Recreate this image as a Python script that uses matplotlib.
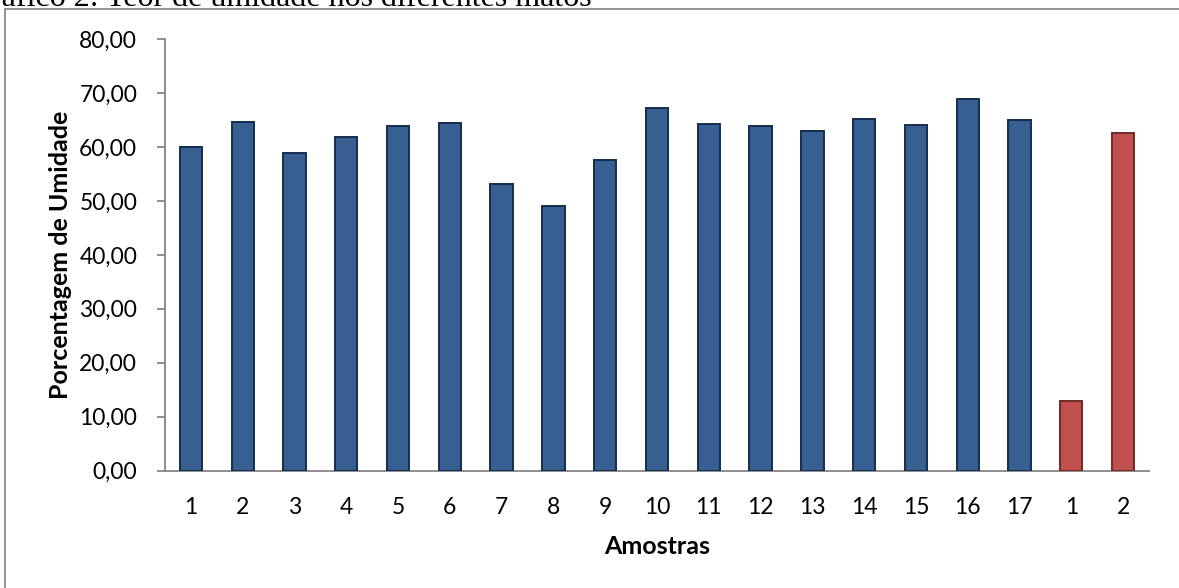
import matplotlib.pyplot as plt
from matplotlib.patches import Rectangle

# moisture content per sample (17 samples + 2 reference samples)
amostras = [str(i) for i in range(1, 18)] + ["1", "2"]
umidade = [59.9, 64.6, 58.9, 61.9, 63.8, 64.4, 53.1, 49.0, 57.5,
           67.2, 64.3, 63.8, 63.0, 65.1, 64.1, 68.8, 64.9,
           13.0, 62.5]
n_principal = 17
y_ticks = [0, 10, 20, 30, 40, 50, 60, 70, 80]

plt.rcParams['font.family'] = ['Lato', 'DejaVu Sans']

W, H = 1179, 588
fig = plt.figure(figsize=(W / 100, H / 100), dpi=100)

# outer frame of the chart area (runs off the right and bottom edges)
fig.add_artist(Rectangle((5 / W, -0.1), 1.2, 1.1 - 9 / H, transform=fig.transFigure,
                         fill=False, edgecolor='#8c8c8c', linewidth=1.3))

# caption cut off at the top of the figure
fig.text(592 / W, 1 - 6.5 / H, "Gráfico 2: Teor de umidade nos diferentes matos",
         ha='right', va='baseline', fontsize=23, family='Liberation Serif', color='black')

ax = fig.add_axes([165 / W, (H - 470.7) / H, (1149 - 165) / W, (470.7 - 39) / H])

x = list(range(len(umidade)))
cores = ['#375f91'] * n_principal + ['#c0504d'] * (len(umidade) - n_principal)
bordas = ['#162d4d'] * n_principal + ['#6e2a28'] * (len(umidade) - n_principal)
ax.bar(x, umidade, width=0.43, color=cores, edgecolor=bordas, linewidth=1.4, zorder=3)

ax.set_xlim(-0.5, len(umidade) - 0.5)
ax.set_ylim(0, 80)
ax.set_yticks(y_ticks)
ax.set_yticklabels([f"{v:.2f}".replace('.', ',') for v in y_ticks])
ax.set_xticks(x)
ax.set_xticklabels(amostras)

for s in ['top', 'right']:
    ax.spines[s].set_visible(False)
for s in ['left', 'bottom']:
    ax.spines[s].set_color('#868686')
    ax.spines[s].set_linewidth(1.3)

ax.tick_params(axis='y', length=6, width=1.3, color='#868686', pad=14, labelsize=16.5)
ax.tick_params(axis='x', length=0, pad=19, labelsize=16.5)

ax.set_ylabel("Porcentagem de Umidade", fontsize=18, fontweight='bold', labelpad=5)
ax.set_xlabel("Amostras", fontsize=18, fontweight='bold', labelpad=12)

fig.savefig("out.png", dpi=100)
